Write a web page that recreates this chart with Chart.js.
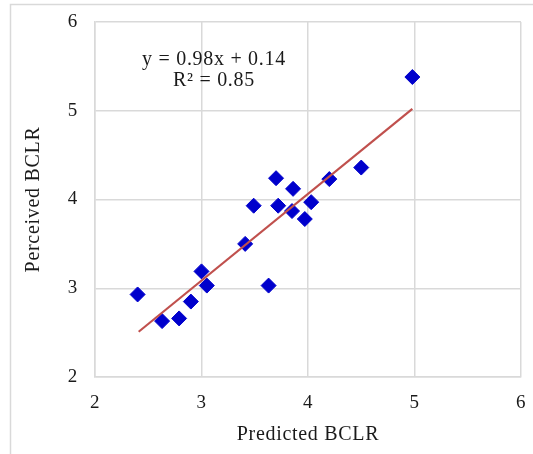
<!DOCTYPE html>
<html>
<head>
<meta charset="utf-8">
<script src="https://cdn.jsdelivr.net/npm/chart.js@4"></script>
<style>
    body { margin: 0; background: #fff; }
    canvas { display: block; }
</style>
</head>
<body>
<canvas id="bclrChart" width="533" height="454"></canvas>
<script>
// values
var predicted = [2.40, 2.63, 2.79, 2.90, 3.00, 3.05, 3.41, 3.49, 3.63, 3.70, 3.72, 3.86, 3.85, 3.97, 4.03, 4.20, 4.50, 4.98];
var perceived = [2.93, 2.63, 2.66, 2.85, 3.19, 3.03, 3.50, 3.93, 3.03, 4.24, 3.93, 4.12, 3.87, 3.78, 3.97, 4.23, 4.36, 5.38];
var trendX = [2.41, 4.98];
var trendY = [2.51, 5.02];
var equationLines = ['y = 0.98x + 0.14', 'R\u00b2 = 0.85'];
var axisTicks = [2, 3, 4, 5, 6];

var serif = 'Liberation Serif';
var textColor = '#1a1a1a';
var gridColor = '#d9d9d9';

// outer frame + trendline equation, drawn on the canvas
var frameAndLabel = {
    id: 'frameAndLabel',
    beforeDraw: function (chart) {
        var ctx = chart.ctx;
        ctx.save();
        ctx.strokeStyle = gridColor;
        ctx.lineWidth = 1.5;
        ctx.strokeRect(10.5, 4.5, 700, 700);
        ctx.restore();
        ctx.letterSpacing = '0.7px';
    },
    afterDraw: function (chart) {
        var ctx = chart.ctx;
        ctx.save();
        ctx.letterSpacing = '0.7px';
        ctx.font = '20px "' + serif + '"';
        ctx.fillStyle = textColor;
        ctx.textAlign = 'center';
        ctx.textBaseline = 'alphabetic';
        ctx.fillText(equationLines[0], 214, 65);
        ctx.fillText(equationLines[1], 214, 86);
        ctx.restore();
    }
};

var pts = predicted.map(function (x, i) { return { x: x, y: perceived[i] }; });
var trend = trendX.map(function (x, i) { return { x: x, y: trendY[i] }; });

function fixedTicks(scale) {
    scale.ticks = axisTicks.map(function (v) { return { value: v }; });
}

new Chart(document.getElementById('bclrChart'), {
    type: 'scatter',
    data: {
        datasets: [{
            type: 'line',
            label: 'Linear trend',
            data: trend,
            borderColor: '#c0504d',
            borderWidth: 2.2,
            pointRadius: 0,
            fill: false,
            order: 0
        }, {
            label: 'Perceived BCLR',
            data: pts,
            pointStyle: 'rectRot',
            pointRadius: 7.5,
            pointBorderWidth: 1,
            backgroundColor: '#0000cc',
            borderColor: '#0000cc',
            order: 1
        }]
    },
    options: {
        responsive: false,
        animation: false,
        layout: { padding: { top: 22, right: 12, left: 0, bottom: 0 } },
        plugins: {
            legend: { display: false },
            tooltip: { enabled: false }
        },
        scales: {
            x: {
                type: 'linear',
                min: axisTicks[0],
                max: axisTicks[axisTicks.length - 1],
                afterBuildTicks: fixedTicks,
                afterFit: function (scale) {
                    scale.height = 77;
                    scale.paddingLeft = 0;
                    scale.paddingRight = 0;
                },
                grid: { color: gridColor, lineWidth: 1.5, drawTicks: false },
                border: { color: gridColor, width: 1.5 },
                ticks: { padding: 15, color: textColor, font: { family: serif, size: 19 } },
                title: {
                    display: true,
                    text: 'Predicted BCLR',
                    color: textColor,
                    font: { family: serif, size: 20 },
                    padding: { top: 0, bottom: 7 }
                }
            },
            y: {
                type: 'linear',
                min: axisTicks[0],
                max: axisTicks[axisTicks.length - 1],
                afterBuildTicks: fixedTicks,
                afterFit: function (scale) {
                    scale.width = 95;
                    scale.paddingTop = 0;
                    scale.paddingBottom = 0;
                },
                grid: { color: gridColor, lineWidth: 1.5, drawTicks: false },
                border: { color: gridColor, width: 1.5 },
                ticks: { padding: 17, color: textColor, font: { family: serif, size: 19 } },
                title: {
                    display: true,
                    text: 'Perceived BCLR',
                    color: textColor,
                    font: { family: serif, size: 20 },
                    padding: { top: 22, bottom: 0 }
                }
            }
        }
    },
    plugins: [frameAndLabel]
});
</script>
</body>
</html>
